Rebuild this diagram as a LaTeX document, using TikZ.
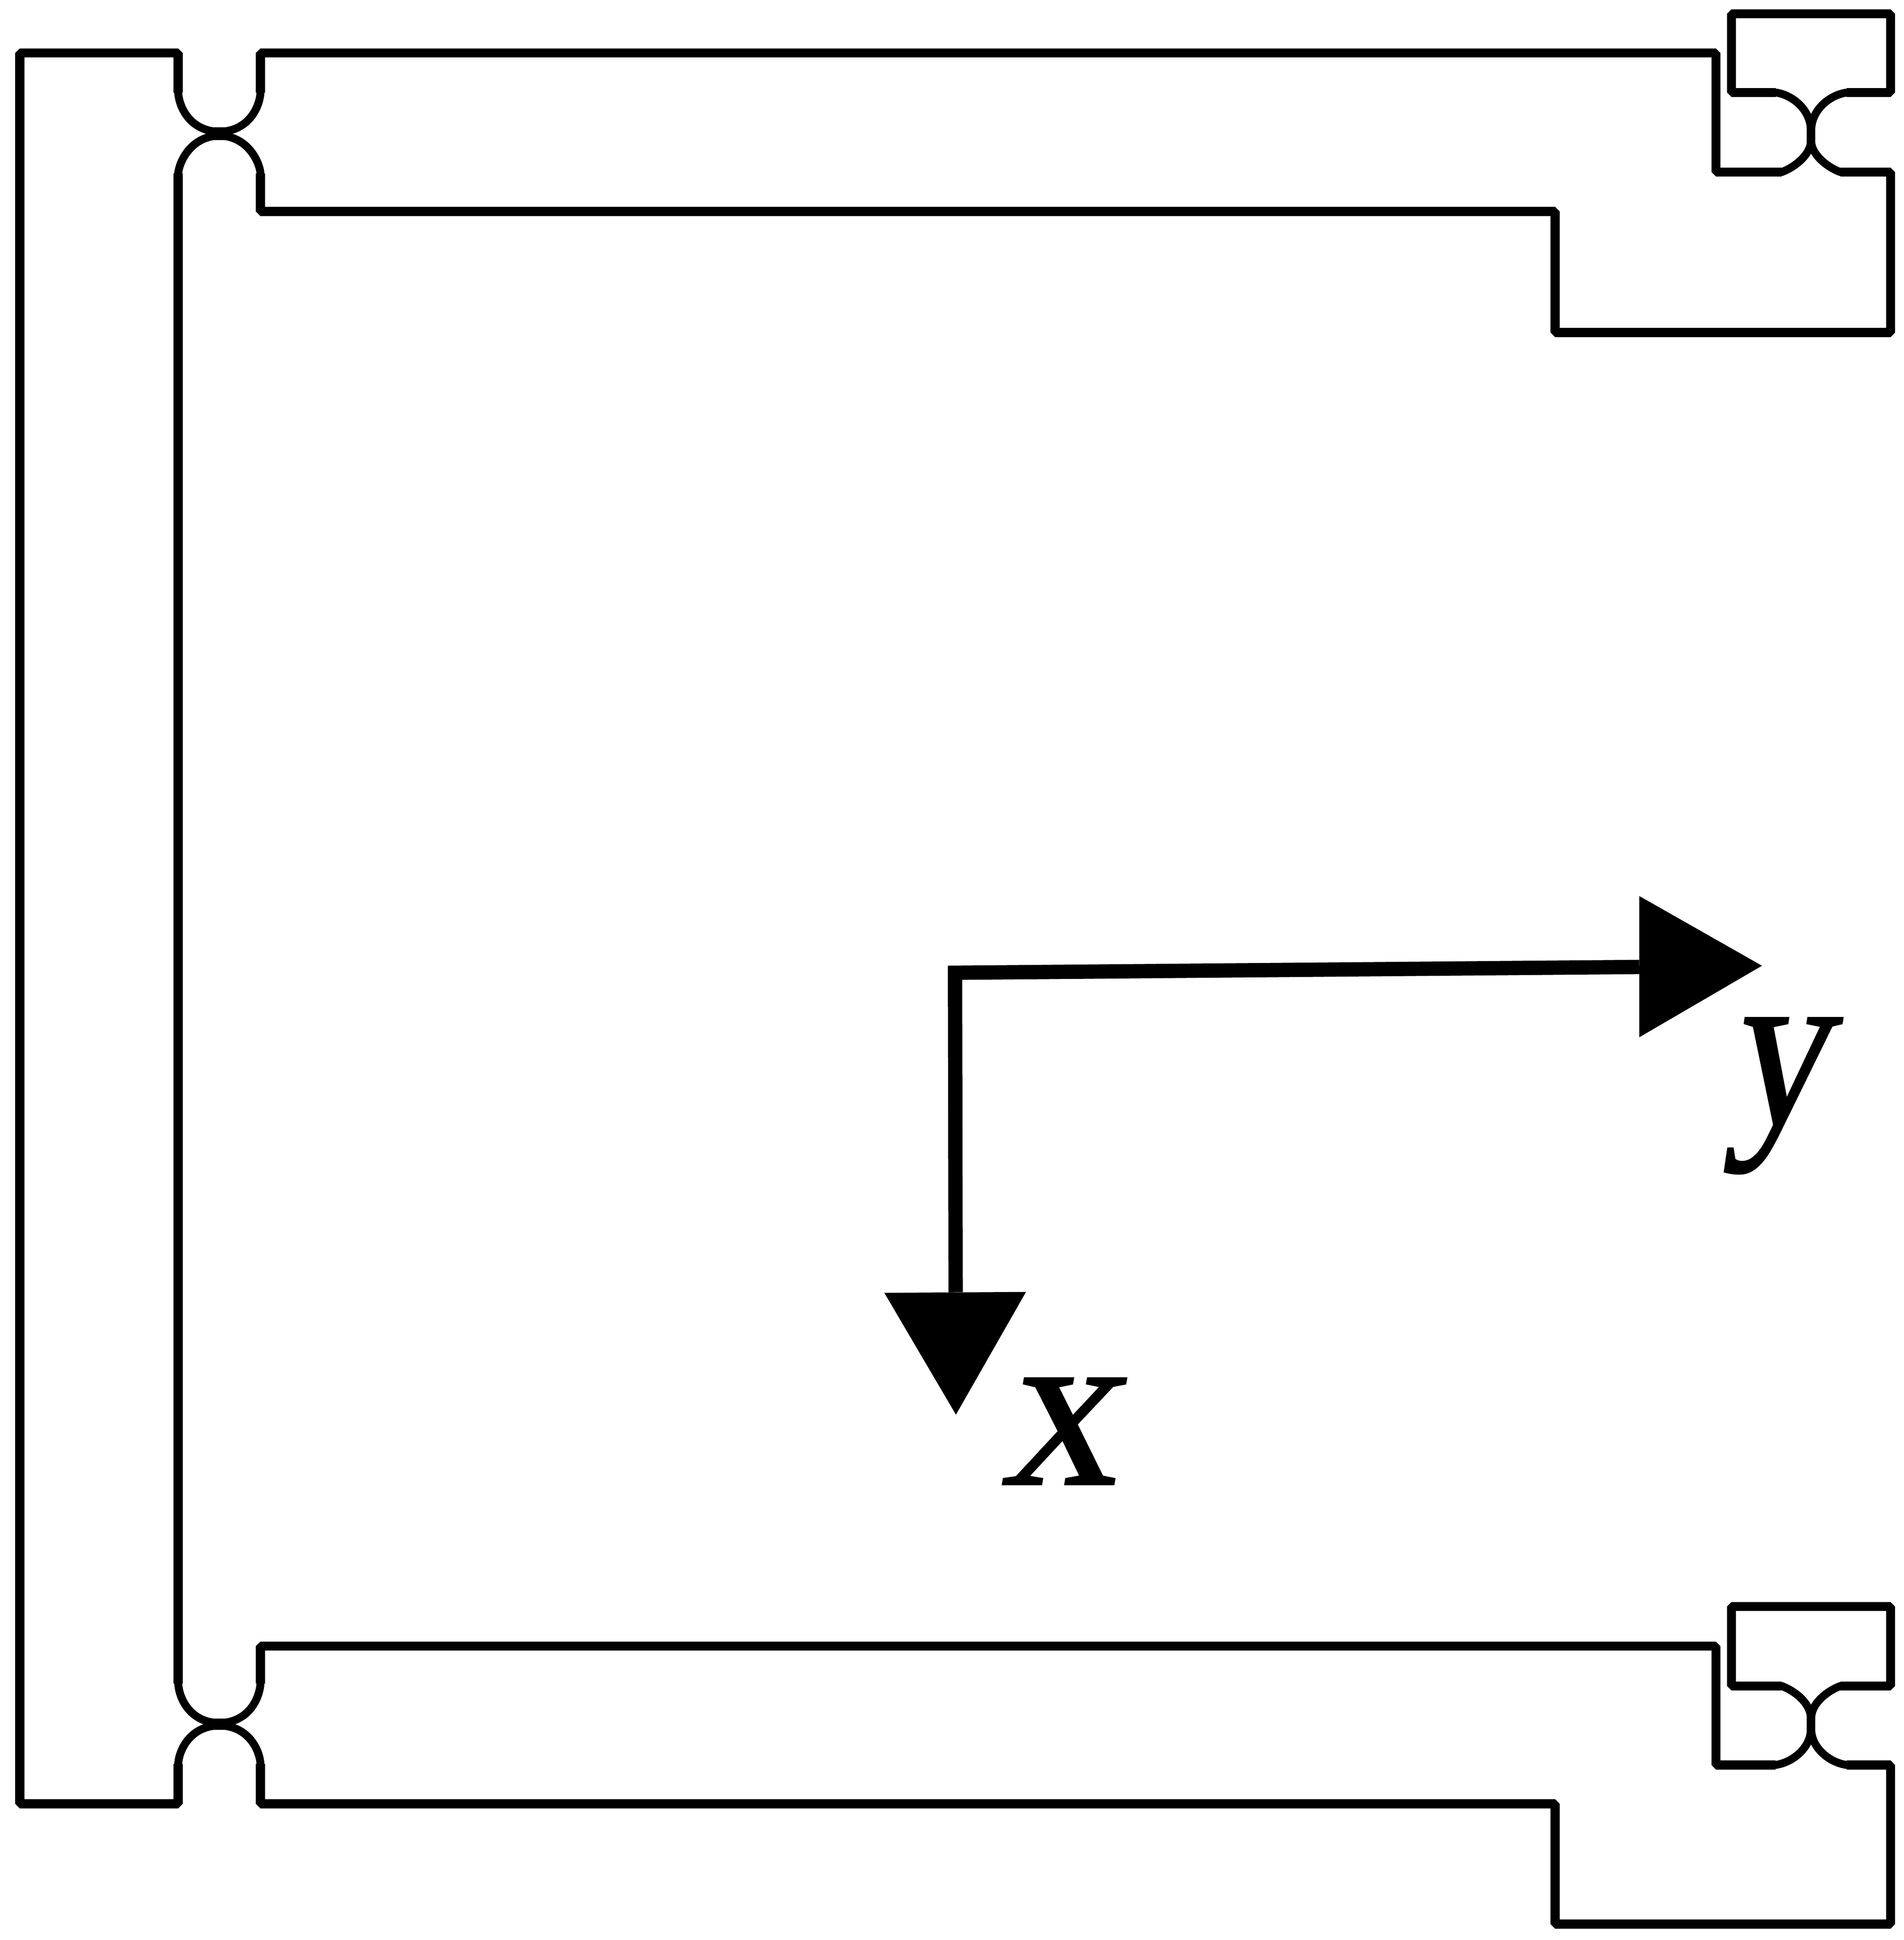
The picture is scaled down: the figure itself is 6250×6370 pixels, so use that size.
\documentclass[tikz,border=0pt]{standalone}
\usepackage{fontspec}
\newfontfamily\axisfont[FakeSlant=0.17,FakeBold=1]{Liberation Serif}
\tikzset{
	outline/.style={black, line width=0.30cm, line join=bevel},
	hinge/.style={black, line width=0.26cm, line cap=round},
	axisline/.style={black, line width=0.47cm, line join=miter},
	axishead/.style={black, fill=black},
	axislabel/.style={inner sep=0pt, anchor=base, font=\fontsize{215}{215}\selectfont\axisfont}
}
\begin{document}
\begin{tikzpicture}[x=0.01cm, y=-0.01cm]
		\useasboundingbox (0, 0) rectangle (6250, 6370);
		% left bar and upper arm
		\draw [outline] (585, 569) -- (585, 5528);
		\draw [outline] (585, 305) -- (585, 174) -- (65, 174) -- (65, 5923) -- (585, 5923) -- (585, 5791);
		\draw [outline] (855, 305) -- (855, 174) -- (5633, 174) -- (5633, 565) -- (5849, 565);
		\draw [outline] (855, 569) -- (855, 694) -- (5105, 694) -- (5105, 1092) -- (6206, 1092) -- (6206, 565) -- (6041, 565);
		\draw [outline] (5830, 304) -- (5684, 304) -- (5684, 45) -- (6206, 45) -- (6206, 304) -- (6062, 304);
		% lower arm
		\draw [outline] (855, 5528) -- (855, 5405) -- (5633, 5405) -- (5633, 5795) -- (5829, 5795);
		\draw [outline] (855, 5791) -- (855, 5923) -- (5105, 5923) -- (5105, 6318) -- (6206, 6318) -- (6206, 5795) -- (6061, 5795);
		\draw [outline] (5849, 5536) -- (5684, 5536) -- (5684, 5275) -- (6206, 5275) -- (6206, 5536) -- (6041, 5536);
		% flexure hinges
		\draw [hinge] (585, 305) .. controls (588, 350) and (620, 420) .. (700, 431) -- (740, 431) .. controls (820, 420) and (852, 350) .. (855, 305);
		\draw [hinge] (585, 569) .. controls (588, 535) and (620, 460) .. (700, 447) -- (740, 447) .. controls (820, 460) and (852, 535) .. (855, 569);
		\draw [hinge] (585, 5528) .. controls (588, 5575) and (620, 5645) .. (700, 5656) -- (740, 5656) .. controls (820, 5645) and (852, 5575) .. (855, 5528);
		\draw [hinge] (585, 5791) .. controls (588, 5748) and (620, 5678) .. (700, 5667) -- (740, 5667) .. controls (820, 5678) and (852, 5748) .. (855, 5791);
		\draw [hinge] (5830, 304) .. controls (5885, 312) and (5940, 360) .. (5944, 420) -- (5944, 470) .. controls (5940, 505) and (5900, 545) .. (5849, 565);
		\draw [hinge] (6062, 304) .. controls (6005, 312) and (5950, 360) .. (5946, 420) -- (5946, 470) .. controls (5950, 505) and (5990, 545) .. (6041, 565);
		\draw [hinge] (5849, 5536) .. controls (5900, 5556) and (5940, 5595) .. (5944, 5635) -- (5944, 5685) .. controls (5940, 5740) and (5885, 5787) .. (5829, 5795);
		\draw [hinge] (6041, 5536) .. controls (5990, 5556) and (5950, 5595) .. (5946, 5635) -- (5946, 5685) .. controls (5950, 5740) and (6005, 5787) .. (6061, 5795);
		% axes
		\coordinate (corner) at (3135, 3194);
		\coordinate (yend) at (5381, 3175);
		\coordinate (xend) at (3137, 4243);
		\draw [axisline] (yend) -- (corner) -- (xend);
		\fill [axishead] (5381, 2942) -- (5784, 3171) -- (5381, 3406) -- cycle;
		\fill [axishead] (2903, 4245) -- (3368, 4242) -- (3138, 4645) -- cycle;
		\node [axislabel] (xlabel) at (3475, 4873) {x};
		\node [axislabel, xscale=0.87, transform shape] (ylabel) at (5835, 3690) {y};
	\end{tikzpicture}
\end{document}
